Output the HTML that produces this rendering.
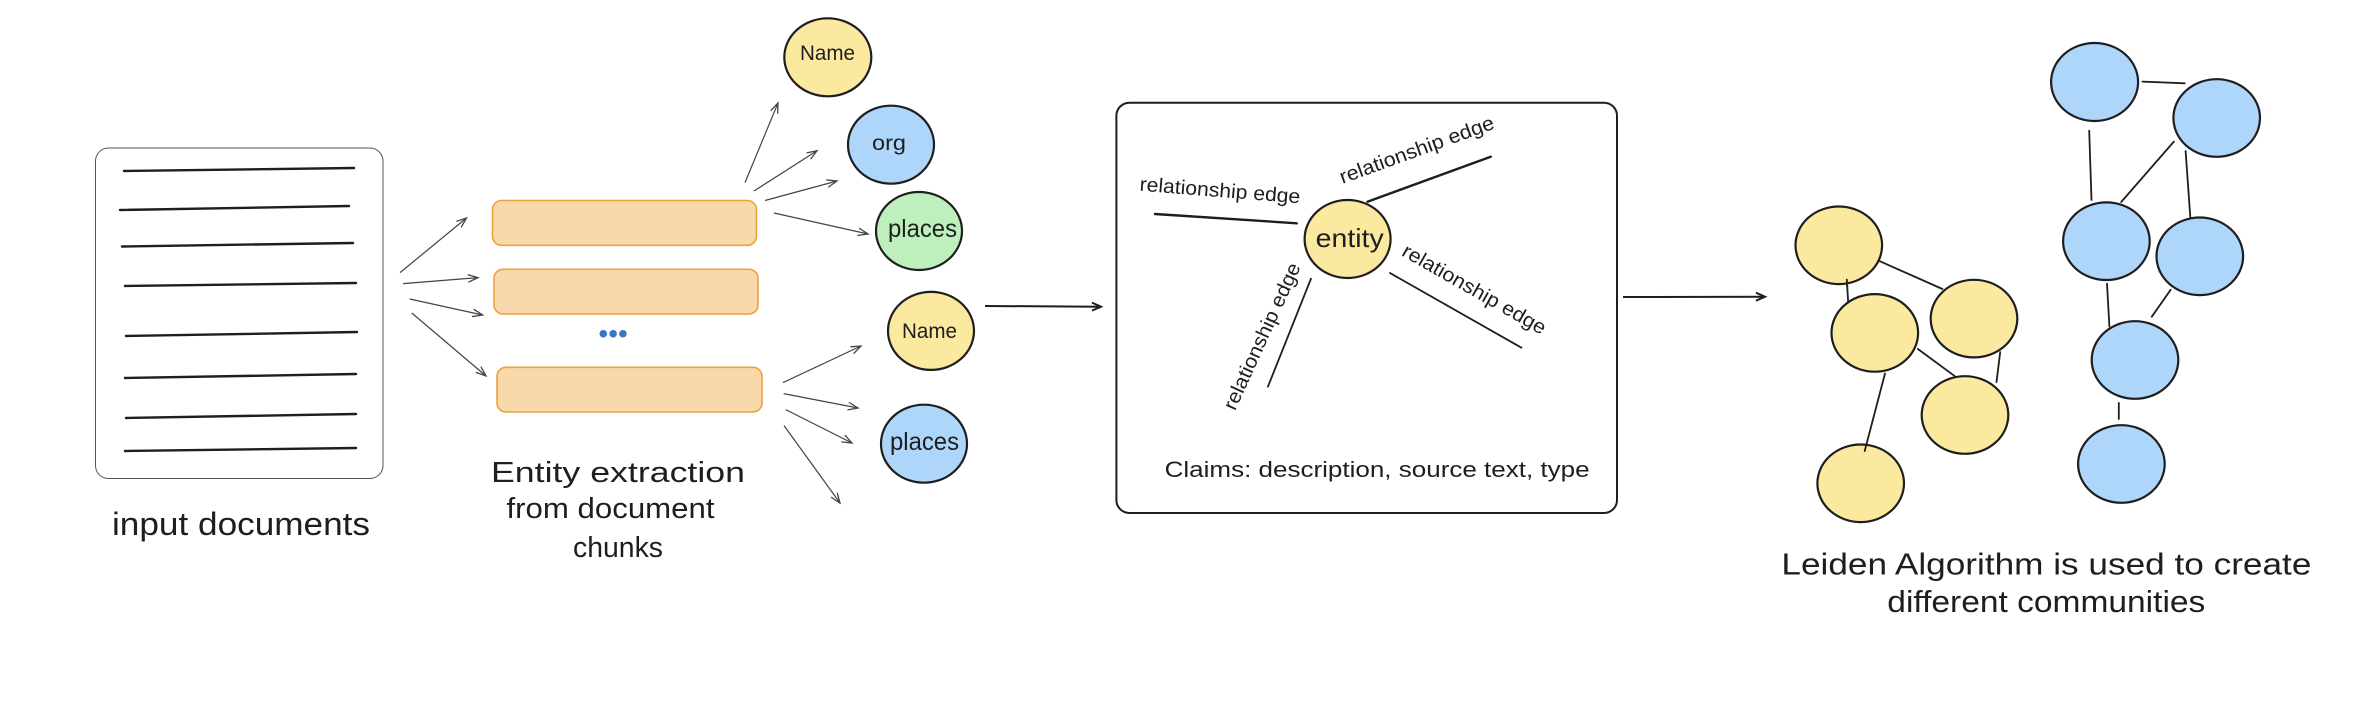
<!DOCTYPE html>
<html><head><meta charset="utf-8"><title>Diagram</title>
<style>
html,body{margin:0;padding:0;background:#fff}
svg{display:block}
text{font-family:"Liberation Sans",sans-serif;fill:#1e1e1e}
.c{stroke:#1e1e1e;stroke-width:2.2}
.y{fill:#fce9a0}.b{fill:#aed6fb}.g{fill:#bdf0bd}
.o{fill:#f8d9ac;stroke:#eba23f;stroke-width:1.6}
.l{stroke:#1e1e1e;stroke-width:2.4;fill:none;stroke-linecap:round}
.t{stroke:#1e1e1e;stroke-width:1.8;fill:none;stroke-linecap:round}
.a{stroke:#444;stroke-width:1.2;fill:none;marker-end:url(#h)}
.A{stroke:#1e1e1e;stroke-width:2;fill:none;marker-end:url(#H)}
</style></head><body>
<svg width="2358" height="716" viewBox="0 0 2358 716" xmlns="http://www.w3.org/2000/svg">
<defs>
<marker id="h" markerUnits="userSpaceOnUse" markerWidth="16" markerHeight="14" refX="13" refY="7" orient="auto"><path d="M3,3.2 L13,7 L3,10.8" fill="none" stroke="#444" stroke-width="1.3"/></marker>
<marker id="H" markerUnits="userSpaceOnUse" markerWidth="16" markerHeight="14" refX="13" refY="7" orient="auto"><path d="M4,3 L13,7 L4,11" fill="none" stroke="#1e1e1e" stroke-width="2"/></marker>
</defs>
<rect x="0" y="0" width="2358" height="716" fill="#fff"/>

<!-- document -->
<rect x="95.5" y="148" width="287.5" height="330.5" rx="13" fill="#fff" stroke="#555" stroke-width="1"/>
<path class="l" d="M124,171L354,168M120,210L349,206M122,246.5L353,243M125,286L356,283M126,336L357,332M125,378L356,374M126,418L356,414M125,451L356,448"/>
<text x="112" y="535" font-size="32" textLength="258" lengthAdjust="spacingAndGlyphs">input documents</text>

<!-- chunks -->
<rect class="o" x="492.5" y="200.5" width="264" height="44.8" rx="9"/>
<rect class="o" x="494" y="269.3" width="264" height="44.7" rx="9"/>
<rect class="o" x="497" y="367.3" width="265" height="44.7" rx="9"/>
<text x="598.4" y="343" font-size="28" style="fill:#3a75c4">•••</text>

<!-- arrows -->
<path class="a" d="M400,272.6L466.5,218"/>
<path class="a" d="M403,283.6L478,277.6"/>
<path class="a" d="M409.7,299L482.6,315"/>
<path class="a" d="M411.8,313L486,376"/>
<path class="a" d="M745,182.6L778,103"/>
<path class="a" d="M754,191L817,150.7"/>
<path class="a" d="M765,200.5L837,181"/>
<path class="a" d="M774,213L868,234"/>
<path class="a" d="M783,382.6L861,346"/>
<path class="a" d="M783.6,393.6L858,408"/>
<path class="a" d="M785.7,409.6L852,443"/>
<path class="a" d="M784,425.6L840,503"/>
<path class="A" d="M985,306L1101,306.7"/>
<path class="A" d="M1623,297L1765,296.7"/>

<text x="491" y="482" font-size="29" textLength="254" lengthAdjust="spacingAndGlyphs">Entity extraction</text>
<text x="506.5" y="518" font-size="29" textLength="208" lengthAdjust="spacingAndGlyphs">from document</text>
<text x="573" y="557" font-size="29" textLength="90" lengthAdjust="spacingAndGlyphs">chunks</text>

<!-- entity nodes -->
<ellipse class="c y" cx="827.8" cy="57.3" rx="43.5" ry="39"/>
<ellipse class="c b" cx="891" cy="144.7" rx="43" ry="39"/>
<ellipse class="c g" cx="919" cy="231" rx="43" ry="39"/>
<ellipse class="c y" cx="931" cy="330.9" rx="43" ry="39"/>
<ellipse class="c b" cx="924" cy="443.7" rx="43" ry="39"/>
<text x="800" y="60" font-size="21" textLength="55" lengthAdjust="spacingAndGlyphs">Name</text>
<text x="872" y="150" font-size="21" textLength="34" lengthAdjust="spacingAndGlyphs">org</text>
<text x="888" y="237" font-size="25" textLength="69" lengthAdjust="spacingAndGlyphs">places</text>
<text x="902" y="338" font-size="21" textLength="55" lengthAdjust="spacingAndGlyphs">Name</text>
<text x="890" y="450" font-size="25" textLength="69" lengthAdjust="spacingAndGlyphs">places</text>

<!-- claims box -->
<rect x="1116.4" y="102.7" width="500.6" height="410.3" rx="13" fill="#fff" stroke="#1e1e1e" stroke-width="2"/>
<ellipse class="c y" cx="1347.6" cy="239" rx="43" ry="39"/>
<text x="1315.7" y="247" font-size="26" textLength="68" lengthAdjust="spacingAndGlyphs">entity</text>
<path class="l" d="M1155,214L1296.8,223.3M1367.5,201.7L1490.7,156.7"/>
<path class="t" d="M1390,273L1521.4,347.7M1311,278.7L1267.9,386.7"/>
<text transform="translate(1219.5,197) rotate(4.5)" text-anchor="middle" font-size="20" textLength="161" lengthAdjust="spacingAndGlyphs">relationship edge</text>
<text transform="translate(1419,156) rotate(-20)" text-anchor="middle" font-size="20" textLength="163" lengthAdjust="spacingAndGlyphs">relationship edge</text>
<text transform="translate(1471,295) rotate(29.6)" text-anchor="middle" font-size="20" textLength="162" lengthAdjust="spacingAndGlyphs">relationship edge</text>
<text transform="translate(1268,339) rotate(-65.5)" text-anchor="middle" font-size="20" textLength="159" lengthAdjust="spacingAndGlyphs">relationship edge</text>
<text x="1164.6" y="477" font-size="22" textLength="425" lengthAdjust="spacingAndGlyphs">Claims: description, source text, type</text>

<!-- communities -->
<path class="t" d="M1846.8,279.6L1848.2,302.9M1879.8,261.2L1942.4,289M1917.9,349L1955,376.3M2000.2,352.2L1996.5,382M1885,373.5L1864.7,451M2142.4,81.6L2184.7,83.3M2089.2,130.6L2091.5,200M2173.9,141.6L2121.2,202M2185.6,151L2190.4,218.4M2107,283.7L2109.4,326.5M2170.6,289.8L2151.8,316.7M2118.8,402.9L2118.8,419"/>
<ellipse class="c y" cx="1838.8" cy="245.3" rx="43.3" ry="38.8"/>
<ellipse class="c y" cx="1874.8" cy="332.9" rx="43.3" ry="38.8"/>
<ellipse class="c y" cx="1974" cy="318.6" rx="43.3" ry="38.8"/>
<ellipse class="c y" cx="1965" cy="415" rx="43.3" ry="38.8"/>
<ellipse class="c y" cx="1860.7" cy="483.3" rx="43.3" ry="38.8"/>
<path class="t" d="M1846.8,279.6L1847.3,287M1864.7,451L1866.5,444"/>
<ellipse class="c b" cx="2094.6" cy="82" rx="43.5" ry="39"/>
<ellipse class="c b" cx="2216.7" cy="118" rx="43.3" ry="38.8"/>
<ellipse class="c b" cx="2106.4" cy="241.2" rx="43.3" ry="38.8"/>
<ellipse class="c b" cx="2199.8" cy="256.3" rx="43.3" ry="38.8"/>
<ellipse class="c b" cx="2135" cy="360" rx="43.3" ry="38.8"/>
<ellipse class="c b" cx="2121.4" cy="464" rx="43.3" ry="38.8"/>
<text x="1781.4" y="574.7" font-size="31" textLength="530" lengthAdjust="spacingAndGlyphs">Leiden Algorithm is used to create</text>
<text x="1887.3" y="612" font-size="31" textLength="318" lengthAdjust="spacingAndGlyphs">different communities</text>
</svg>
</body></html>
